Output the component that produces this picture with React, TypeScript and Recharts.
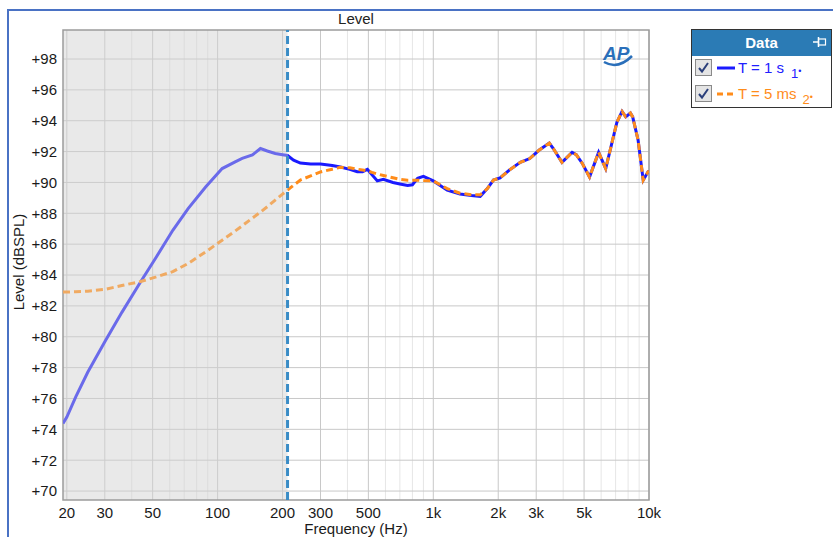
import React from "react";
import { LineChart, Line, XAxis, YAxis, CartesianGrid, ReferenceArea, ReferenceLine, Label } from "recharts";

const FONT = "'Liberation Sans', Arial, sans-serif";

// frequencies (Hz)
const FREQ = [19.2, 20, 22, 25, 30, 36, 44, 52, 62, 73, 88, 105, 120, 130, 145, 158, 170, 185, 200, 211, 225, 242, 270, 300, 340, 371, 410, 444, 470, 495, 520, 550, 587, 650, 700, 760, 800, 846, 900, 1000, 1160, 1330, 1500, 1650, 1780, 1900, 2040, 2250, 2530, 2800, 3100, 3450, 3600, 3950, 4400, 4600, 4900, 5300, 5840, 6300, 7100, 7500, 7800, 8200, 8400, 8900, 9400, 9900, 10000];

// T = 1 s (dBSPL)
const T1S = [74.38, 74.8, 76.1, 77.7, 79.67, 81.58, 83.57, 85.17, 86.9, 88.3, 89.7, 90.9, 91.32, 91.56, 91.78, 92.2, 92.04, 91.88, 91.8, 91.75, 91.45, 91.26, 91.2, 91.2, 91.1, 91.0, 90.85, 90.7, 90.7, 90.85, 90.5, 90.1, 90.2, 90.0, 89.9, 89.8, 89.85, 90.27, 90.4, 90.1, 89.5, 89.25, 89.15, 89.1, 89.6, 90.15, 90.3, 90.8, 91.3, 91.55, 92.1, 92.55, 92.2, 91.3, 91.95, 91.8, 91.25, 90.35, 91.95, 90.9, 93.9, 94.6, 94.25, 94.5, 94.25, 92.75, 90.15, 90.7, 90.7];

// T = 5 ms (dBSPL)
const T5MS = [82.9, 82.9, 82.92, 82.95, 83.07, 83.32, 83.58, 83.88, 84.22, 84.75, 85.5, 86.26, 86.83, 87.19, 87.69, 88.08, 88.43, 88.86, 89.24, 89.51, 89.81, 90.16, 90.42, 90.68, 90.86, 90.98, 90.95, 90.85, 90.8, 90.75, 90.65, 90.55, 90.45, 90.3, 90.2, 90.15, 90.15, 90.15, 90.12, 90.1, 89.6, 89.3, 89.2, 89.2, 89.6, 90.15, 90.3, 90.8, 91.3, 91.55, 92.1, 92.55, 92.2, 91.3, 91.95, 91.8, 91.25, 90.35, 91.95, 90.9, 93.9, 94.6, 94.25, 94.5, 94.25, 92.75, 90.15, 90.7, 90.7];

const X_TICKS = [20, 30, 50, 100, 200, 300, 500, 1000, 2000, 3000, 5000, 10000];
const X_MINOR = [40, 60, 70, 80, 90, 400, 600, 700, 800, 900, 4000, 6000, 7000, 8000, 9000];
const Y_TICKS = [70, 72, 74, 76, 78, 80, 82, 84, 86, 88, 90, 92, 94, 96, 98];

const X_DOMAIN = [19.2, 10000];
const Y_DOMAIN = [69.42, 99.88];
const GATE_FREQ = 211;

const data = FREQ.map((f, i) => ({ freq: f, t1: T1S[i], t5: T5MS[i] }));

// where the gate line sits along the log axis (0..1), used to dim the lines left of it
const gateOffset = Math.log(GATE_FREQ / X_DOMAIN[0]) / Math.log(X_DOMAIN[1] / X_DOMAIN[0]);

const fmtFreq = (v: number) => (v >= 1000 ? `${v / 1000}k` : `${v}`);

function CheckBox() {
  return (
    <svg width={17} height={17} style={{ display: "block" }}>
      <rect x={0.5} y={0.5} width={16} height={16} fill="#e4e4e4" stroke="#8a8a8a" />
      <path d="M4 9 L7 12.5 L13 4" fill="none" stroke="#2b3f7a" strokeWidth={2} />
    </svg>
  );
}

function LegendBox() {
  return (
    <div style={{ position: "absolute", left: 691, top: 29, width: 139, height: 77, border: "1.5px solid #333", background: "#fff", fontFamily: FONT }}>
      <div style={{ height: 26, background: "#2b7bb5", color: "#fff", fontWeight: "bold", fontSize: 15, lineHeight: "26px", textAlign: "center", position: "relative" }}>
        Data
        <svg width={14} height={10} style={{ position: "absolute", right: 4, top: 7 }}>
          <line x1={0} y1={5} x2={5} y2={5} stroke="#fff" strokeWidth={1.5} />
          <rect x={5.5} y={2} width={7} height={6} fill="none" stroke="#fff" strokeWidth={1.2} />
          <line x1={5.5} y1={0} x2={5.5} y2={10} stroke="#fff" strokeWidth={1.5} />
        </svg>
      </div>
      <div style={{ position: "absolute", left: 3, top: 29, display: "flex", alignItems: "center" }}>
        <CheckBox />
        <svg width={22} height={10} style={{ marginLeft: 4 }}>
          <line x1={1} y1={5} x2={19} y2={5} stroke="#1a1aff" strokeWidth={3} />
        </svg>
        <span style={{ color: "#2020ff", fontSize: 15 }}>T = 1 s</span>
        <span style={{ color: "#2020ff", fontSize: 13, position: "relative", top: 6, marginLeft: 7 }}>1<span style={{ fontSize: 9, verticalAlign: "top" }}>•</span></span>
      </div>
      <div style={{ position: "absolute", left: 3, top: 55, display: "flex", alignItems: "center" }}>
        <CheckBox />
        <svg width={22} height={10} style={{ marginLeft: 4 }}>
          <line x1={1} y1={5} x2={20} y2={5} stroke="#ff8c1a" strokeWidth={3} strokeDasharray="6 4" />
        </svg>
        <span style={{ color: "#ff8c1a", fontSize: 15 }}>T = 5 ms</span>
        <span style={{ color: "#ff8c1a", fontSize: 13, position: "relative", top: 6, marginLeft: 6 }}>2<span style={{ fontSize: 9, verticalAlign: "top" }}>•</span></span>
      </div>
    </div>
  );
}

export default function App() {
  return (
    <div style={{ position: "absolute", left: 0, top: 0, width: 833, height: 537, overflow: "hidden", background: "#fff", fontFamily: FONT }}>
      <div style={{ position: "absolute", left: 7, top: 9, width: 900, height: 600, borderLeft: "2px solid #4a72c4", borderTop: "2px solid #4a72c4" }} />
      <div style={{ position: "absolute", left: 63, width: 586, top: 10, textAlign: "center", fontSize: 15, color: "#222" }}>Level</div>
      <div style={{ position: "absolute", left: 0, top: 0 }}>
        <LineChart width={833} height={537} data={data} margin={{ top: 30, right: 184, bottom: 0, left: 0 }}>
          <defs>
            <linearGradient id="gBlue" x1="0" y1="0" x2="1" y2="0">
              <stop offset={gateOffset} stopColor="#6a6aea" />
              <stop offset={gateOffset} stopColor="#1a1aff" />
            </linearGradient>
            <linearGradient id="gOrange" x1="0" y1="0" x2="1" y2="0">
              <stop offset={gateOffset} stopColor="#f0aa62" />
              <stop offset={gateOffset} stopColor="#ff8c1a" />
            </linearGradient>
          </defs>
          <CartesianGrid horizontal={false} verticalValues={X_MINOR} stroke="#e6e6e6" />
          <CartesianGrid verticalValues={X_TICKS} horizontalValues={Y_TICKS} stroke="#c8c8c8" />
          <ReferenceArea x1={X_DOMAIN[0]} x2={GATE_FREQ} fill="#d0d0d0" fillOpacity={0.48} stroke="none" />
          <XAxis
            dataKey="freq"
            type="number"
            scale="log"
            domain={X_DOMAIN}
            ticks={X_TICKS}
            interval={0}
            allowDataOverflow
            tickFormatter={fmtFreq}
            tickLine={false}
            axisLine={false}
            tickSize={5}
            tickMargin={2}
            height={37}
            tick={{ fill: "#1a1a1a", fontSize: 15, fontFamily: FONT }}
          >
            <Label value="Frequency (Hz)" position="insideBottom" offset={3} style={{ fill: "#1a1a1a", fontSize: 15, fontFamily: FONT }} />
          </XAxis>
          <YAxis
            type="number"
            domain={Y_DOMAIN}
            ticks={Y_TICKS}
            interval={0}
            allowDataOverflow
            tickFormatter={(v: number) => `+${v}`}
            tickLine={false}
            axisLine={false}
            tickSize={4}
            tickMargin={2}
            width={63}
            tick={{ fill: "#1a1a1a", fontSize: 15, fontFamily: FONT }}
          >
            <Label
              content={() => (
                <text x={18} y={262} transform="rotate(-90 18 262)" textAnchor="middle" dominantBaseline="central" fill="#1a1a1a" fontSize={15} fontFamily={FONT}>
                  Level (dBSPL)
                </text>
              )}
            />
          </YAxis>
          <Line dataKey="t1" stroke="url(#gBlue)" strokeWidth={3} dot={false} activeDot={false} isAnimationActive={false} />
          <Line dataKey="t5" stroke="url(#gOrange)" strokeWidth={3} strokeDasharray="7 4" dot={false} activeDot={false} isAnimationActive={false} />
          <ReferenceLine x={GATE_FREQ} stroke="#3a8cc6" strokeWidth={3} strokeDasharray="8 4" />
          <ReferenceArea x1={X_DOMAIN[0]} x2={X_DOMAIN[1]} fill="none" stroke="#9c9c9c" strokeWidth={1.5} />
        </LineChart>
      </div>
      <svg width={40} height={30} style={{ position: "absolute", left: 598, top: 40 }}>
        <path d="M6 22 Q20 30 34 16" fill="none" stroke="#2a6fba" strokeWidth={2.5} />
        <text x={5} y={20} fontSize={19} fontWeight="bold" fontStyle="italic" fill="#2a6fba" fontFamily={FONT}>AP</text>
      </svg>
      <LegendBox />
    </div>
  );
}
